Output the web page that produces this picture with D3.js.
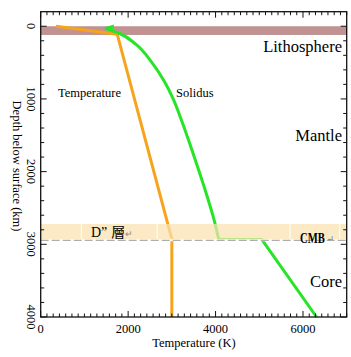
<!DOCTYPE html>
<html>
<head>
<meta charset="utf-8">
<script src="https://cdn.jsdelivr.net/npm/d3@7"></script>
<style>
html,body{margin:0;padding:0;background:#fff;}
svg{display:block;}
</style>
</head>
<body>
<script>
// ---- data ----
const xTicksMajor = [0, 2000, 4000, 6000];
const yTicksMajor = [0, 1000, 2000, 3000, 4000];
const temperature = [[350, 0], [1750, 110], [3000, 2930], [3000, 4000]];
const solidusMantle = [[1470, 30], [1805, 100], [2180, 250], [2545, 500], [2820, 750], [3030, 1000], [3225, 1300], [3486, 1750], [3734, 2200], [3969, 2670], [4075, 2935]];
const solidusCore = [[4075, 2935], [5060, 2935], [6310, 4000]];
const lithosphere = [0, 120];
const dLayer = [2720, 2945];
const dLayerSeams = [930, 2665, 5705, 6840];
const regionLabels = [
  {text: "Lithosphere", depth: 52},
  {text: "Mantle", depth: 141},
  {text: "Core", depth: 287}
];

const W = 351, H = 357;
const svg = d3.select("body").append("svg").attr("width", W).attr("height", H);
const x = d3.scaleLinear().domain([0, 7000]).range([40.7, 346.7]);
const y = d3.scaleLinear().domain([-200, 4000]).range([11.7, 317]);
const serif = "'Times New Roman','Liberation Serif','DejaVu Serif',serif";

// lithosphere band
svg.append("rect").attr("x", x(0)).attr("width", x(7000) - x(0))
  .attr("y", y(lithosphere[0])).attr("height", y(lithosphere[1]) - y(lithosphere[0]))
  .attr("fill", "#c09292");

// lines
svg.append("path").datum(temperature).attr("d", d3.line().x(d => x(d[0])).y(d => y(d[1])))
  .attr("fill", "none").attr("stroke", "#f5a41c").attr("stroke-width", 3).attr("stroke-linejoin", "round");
svg.append("path").datum(solidusMantle).attr("d", d3.line().x(d => x(d[0])).y(d => y(d[1])).curve(d3.curveMonotoneY))
  .attr("fill", "none").attr("stroke", "#26e426").attr("stroke-width", 3);
svg.append("path").datum(solidusCore).attr("d", d3.line().x(d => x(d[0])).y(d => y(d[1])))
  .attr("fill", "none").attr("stroke", "#26e426").attr("stroke-width", 3).attr("stroke-linejoin", "round");
// arrow head at solidus start
const s0 = solidusMantle[0];
const ax = x(s0[0]), ay = y(s0[1]);
svg.append("path").attr("d", `M${ax - 1},${ay - 1} L${ax + 9},${ay - 4} L${ax + 8},${ay + 3} Z`).attr("fill", "#26e426");

// D" layer band (semi-transparent over lines)
svg.append("rect").attr("x", x(0)).attr("width", x(7000) - x(0))
  .attr("y", y(dLayer[0])).attr("height", y(dLayer[1]) - y(dLayer[0]))
  .attr("fill", "rgb(251,226,176)").attr("opacity", 0.72);
svg.selectAll(".seam").data(dLayerSeams).enter().append("line")
  .attr("x1", d => x(d)).attr("x2", d => x(d))
  .attr("y1", y(dLayer[0])).attr("y2", y(dLayer[1]))
  .attr("stroke", "#fff").attr("stroke-width", 1);
// CMB dashed line
svg.append("line").attr("x1", x(0)).attr("x2", x(7000)).attr("y1", y(dLayer[1])).attr("y2", y(dLayer[1]))
  .attr("stroke", "#fff").attr("stroke-width", 2);
svg.append("line").attr("x1", x(0)).attr("x2", x(7000)).attr("y1", y(dLayer[1])).attr("y2", y(dLayer[1]))
  .attr("stroke", "#9a9a9a").attr("stroke-width", 1).attr("stroke-dasharray", "8,3");

// frame
svg.append("rect").attr("x", x(0)).attr("y", y(-200)).attr("width", x(7000) - x(0)).attr("height", y(4000) - y(-200))
  .attr("fill", "none").attr("stroke", "#111").attr("stroke-width", 1.3);

// ticks
const xMinor = d3.range(0, 7000 + 1, 2000 / 14);
const yMinor = d3.range(0, 4000 + 1, 200);
const isMajorX = v => xTicksMajor.some(m => Math.abs(m - v) < 1);
const isMajorY = v => yTicksMajor.includes(Math.round(v));
const tk = svg.append("g").attr("stroke", "#111").attr("stroke-width", 1);
xMinor.forEach(v => {
  const L = isMajorX(v) ? 6 : 3.5;
  tk.append("line").attr("x1", x(v)).attr("x2", x(v)).attr("y1", y(-200)).attr("y2", y(-200) + L);
  tk.append("line").attr("x1", x(v)).attr("x2", x(v)).attr("y1", y(4000)).attr("y2", y(4000) - L);
});
yMinor.forEach(v => {
  const L = isMajorY(v) ? 6 : 3.5;
  tk.append("line").attr("y1", y(v)).attr("y2", y(v)).attr("x1", x(0)).attr("x2", x(0) + L);
  tk.append("line").attr("y1", y(v)).attr("y2", y(v)).attr("x1", x(7000)).attr("x2", x(7000) - L);
});

// tick labels
svg.selectAll(".xl").data(xTicksMajor).enter().append("text")
  .attr("x", d => x(d)).attr("y", 333).attr("text-anchor", "middle")
  .attr("font-family", serif).attr("font-size", 12.5).text(d => d);
svg.selectAll(".yl").data(yTicksMajor).enter().append("text")
  .attr("transform", d => `translate(26.5,${y(d)}) rotate(90)`).attr("text-anchor", "middle")
  .attr("font-family", serif).attr("font-size", 12.5).text(d => d);

// axis titles
svg.append("text").attr("x", 194).attr("y", 347).attr("text-anchor", "middle")
  .attr("font-family", serif).attr("font-size", 12.5).text("Temperature (K)");
svg.append("text").attr("transform", `translate(12.5,166) rotate(90)`).attr("text-anchor", "middle")
  .attr("font-family", serif).attr("font-size", 12.5).text("Depth below surface (km)");

// curve labels
svg.append("text").attr("x", 58).attr("y", 97).attr("font-family", serif).attr("font-size", 12.5).text("Temperature");
svg.append("text").attr("x", 176).attr("y", 97).attr("font-family", serif).attr("font-size", 12.5).text("Solidus");

// region labels
svg.selectAll(".rl").data(regionLabels).enter().append("text")
  .attr("x", 342).attr("y", d => d.depth).attr("text-anchor", "end")
  .attr("font-family", serif).attr("font-size", 16.5).text(d => d.text);

// D" and CMB labels
const dl = svg.append("text").attr("x", 91).attr("y", 237).attr("font-family", "'Noto Sans CJK TC','Noto Sans CJK SC',serif").attr("font-size", 14);
dl.append("tspan").attr("font-family", serif).text("D”");
dl.append("tspan").attr("dx", 4).text("層");
dl.append("tspan").attr("font-size", 9).attr("fill", "#888").text("↵");
svg.append("text").attr("transform", "translate(300,243) scale(0.76,1)").attr("font-family", serif).attr("font-size", 14).attr("font-weight", "bold")
  .text("CMB");
svg.append("text").attr("x", 326.5).attr("y", 242).attr("font-family", serif).attr("font-size", 9).attr("fill", "#888").text("↵");
</script>
</body>
</html>
